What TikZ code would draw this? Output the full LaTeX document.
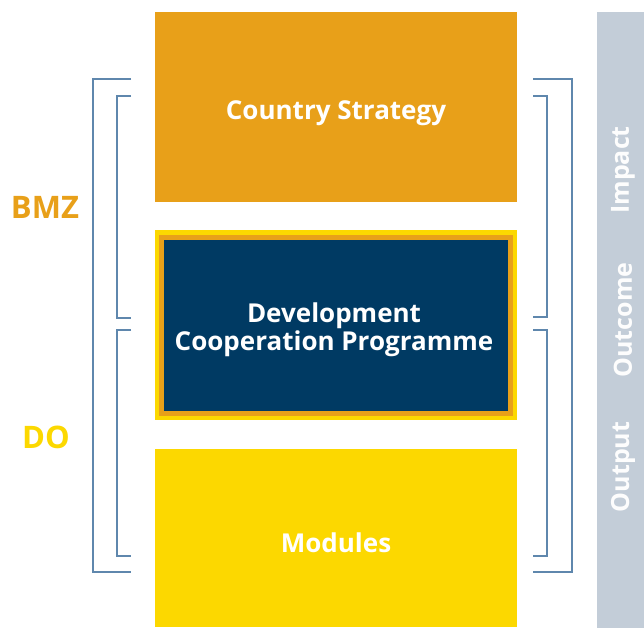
\documentclass[tikz,border=0pt]{standalone}
\usepackage{fontspec}
\setmainfont{Open Sans}
\usepackage{xcolor}
\usepackage{tikz}
\definecolor{gizorange}{HTML}{E8A019}
\definecolor{gizblue}{HTML}{003A63}
\definecolor{gizyellow}{HTML}{FCD800}
\definecolor{bracketblue}{HTML}{5F87AD}
\definecolor{bargray}{HTML}{C3CDD8}
\tikzset{
  box/.style={minimum width=362pt, inner sep=0pt, font=\bfseries\fontsize{26}{28}\selectfont, text=white, align=center},
  brk/.style={line width=2.4pt, bracketblue},
  level/.style={rotate=90, font=\bfseries\fontsize{25}{28}\selectfont, text=white!96!bargray},
  actor/.style={font=\bfseries\fontsize{31}{34}\selectfont}
}

\begin{document}
\begin{tikzpicture}[x=1pt,y=-1pt]
\useasboundingbox (0,0) rectangle (644,628);

% riquadro 1 - country strategy
\node (cs) at (336,107) [box, fill=gizorange, minimum height=190pt] {};
\node (cst) at (336,113) [box] {Country Strategy};

% riquadro 2 - programme, doppio bordo
\node (dcp) at (336,325) [box, fill=gizyellow, minimum height=190pt] {};
\node (dcpo) at (336,325) [box, fill=gizorange, minimum width=354pt, minimum height=181pt] {};
\node (dcpi) at (336,325) [box, fill=gizblue, minimum width=344pt, minimum height=171pt] {};
\node (dcpt) at (334,330) [box] {Development\\Cooperation Programme};

% riquadro 3 - modules
\node (mod) at (336,538) [box, fill=gizyellow, minimum height=178pt] {};
\node (modt) at (336,543) [box] {Modules};

% barra grigia
\fill[bargray] (597,12) rectangle (644,628);
\node (imp) at (623,170) [level] {Impact};
\node (outc) at (623,320) [level] {Outcome};
\node (outp) at (623,467) [level] {Output};

% parentesi sinistra
\draw[brk] (131,79) -- (93,79) -- (93,572) -- (131,572);
\draw[brk] (131,96) -- (117,96) -- (117,318) -- (131,318);
\draw[brk] (131,330) -- (117,330) -- (117,556) -- (131,556);

% parentesi destra
\draw[brk] (533,79) -- (572,79) -- (572,572) -- (533,572);
\draw[brk] (533,96) -- (547,96) -- (547,317) -- (533,317);
\draw[brk] (533,330) -- (547,330) -- (547,556) -- (533,556);

% etichette
\node (bmz) at (45,207) [actor, text=gizorange] {BMZ};
\node (do) at (46,437) [actor, text=gizyellow] {DO};
\end{tikzpicture}
\end{document}
